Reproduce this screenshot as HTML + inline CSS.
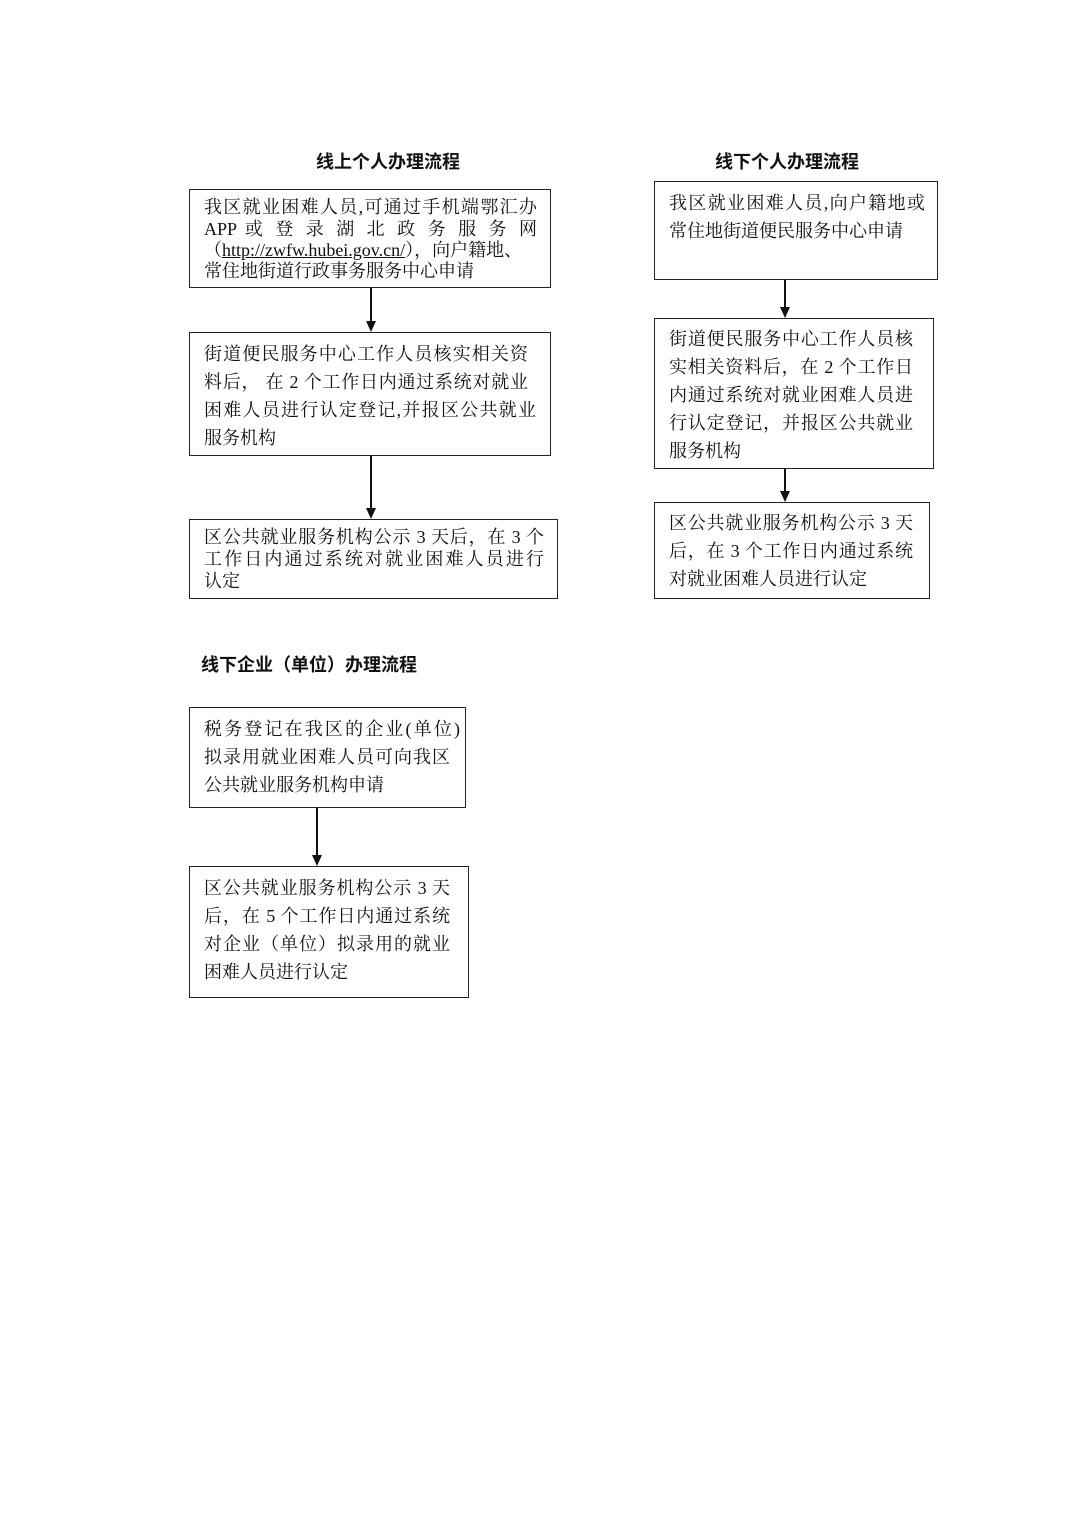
<!DOCTYPE html>
<html><head><meta charset="utf-8"><style>
body{margin:0;background:#fff;}
#p{position:relative;width:1074px;height:1520px;overflow:hidden;font-family:"Liberation Serif","Noto Serif CJK SC",serif;color:#111;}
.b{position:absolute;border:1.3px solid #222;box-sizing:border-box;}
.l{position:absolute;white-space:nowrap;font-size:18px;line-height:20px;}
.j{text-align:justify;text-align-last:justify;}
.t{position:absolute;white-space:nowrap;font-size:18px;font-weight:bold;font-family:"Liberation Sans","Noto Sans CJK SC",sans-serif;line-height:20px;}
.v{position:absolute;width:1.6px;background:#111;}
.a{position:absolute;width:0;height:0;border-left:5px solid transparent;border-right:5px solid transparent;border-top:11px solid #111;}
</style></head><body><div id="p">
<div class="t" style="left:316px;top:152px">线上个人办理流程</div>
<div class="t" style="left:715px;top:152px">线下个人办理流程</div>
<div class="t" style="left:201px;top:655px">线下企业（单位）办理流程</div>

<div class="b" style="left:189px;top:189px;width:362px;height:99px"></div>
<div class="l j" style="left:204px;top:197px;width:333px">我区就业困难人员,可通过手机端鄂汇办</div>
<div class="l j" style="left:204px;top:219px;width:333px">APP 或 登 录 湖 北 政 务 服 务 网</div>
<div class="l" style="left:204px;top:240px">（<u>http://zwfw.hubei.gov.cn/</u>），向户籍地、</div>
<div class="l" style="left:204px;top:261px">常住地街道行政事务服务中心申请</div>
<div class="v" style="left:370px;top:288px;height:34px"></div><div class="a" style="left:366px;top:321px"></div>

<div class="b" style="left:189px;top:332px;width:362px;height:124px"></div>
<div class="l j" style="left:204px;top:344px;width:324px">街道便民服务中心工作人员核实相关资</div>
<div class="l j" style="left:204px;top:372px;width:324px">料后， 在 2 个工作日内通过系统对就业</div>
<div class="l j" style="left:204px;top:400px;width:332px">困难人员进行认定登记,并报区公共就业</div>
<div class="l" style="left:204px;top:428px">服务机构</div>
<div class="v" style="left:370px;top:456px;height:53px"></div><div class="a" style="left:366px;top:508px"></div>

<div class="b" style="left:189px;top:519px;width:369px;height:80px"></div>
<div class="l j" style="left:204px;top:527px;width:340px">区公共就业服务机构公示 3 天后，在 3 个</div>
<div class="l j" style="left:204px;top:549px;width:340px">工作日内通过系统对就业困难人员进行</div>
<div class="l" style="left:204px;top:571px">认定</div>

<div class="b" style="left:654px;top:181px;width:284px;height:99px"></div>
<div class="l j" style="left:669px;top:193px;width:256px">我区就业困难人员,向户籍地或</div>
<div class="l" style="left:669px;top:221px">常住地街道便民服务中心申请</div>
<div class="v" style="left:784px;top:280px;height:28px"></div><div class="a" style="left:780px;top:307px"></div>

<div class="b" style="left:654px;top:318px;width:280px;height:151px"></div>
<div class="l j" style="left:669px;top:329px;width:244px">街道便民服务中心工作人员核</div>
<div class="l j" style="left:669px;top:357px;width:244px">实相关资料后，在 2 个工作日</div>
<div class="l j" style="left:669px;top:385px;width:244px">内通过系统对就业困难人员进</div>
<div class="l j" style="left:669px;top:413px;width:244px">行认定登记，并报区公共就业</div>
<div class="l" style="left:669px;top:441px">服务机构</div>
<div class="v" style="left:784px;top:469px;height:23px"></div><div class="a" style="left:780px;top:491px"></div>

<div class="b" style="left:654px;top:502px;width:276px;height:97px"></div>
<div class="l j" style="left:669px;top:513px;width:244px">区公共就业服务机构公示 3 天</div>
<div class="l j" style="left:669px;top:541px;width:244px">后，在 3 个工作日内通过系统</div>
<div class="l" style="left:669px;top:569px">对就业困难人员进行认定</div>

<div class="b" style="left:189px;top:707px;width:277px;height:101px"></div>
<div class="l j" style="left:204px;top:719px;width:256px">税务登记在我区的企业(单位)</div>
<div class="l j" style="left:204px;top:747px;width:246px">拟录用就业困难人员可向我区</div>
<div class="l" style="left:204px;top:775px">公共就业服务机构申请</div>
<div class="v" style="left:316px;top:808px;height:48px"></div><div class="a" style="left:312px;top:855px"></div>

<div class="b" style="left:189px;top:866px;width:280px;height:132px"></div>
<div class="l j" style="left:204px;top:878px;width:246px">区公共就业服务机构公示 3 天</div>
<div class="l j" style="left:204px;top:906px;width:246px">后，在 5 个工作日内通过系统</div>
<div class="l j" style="left:204px;top:934px;width:246px">对企业（单位）拟录用的就业</div>
<div class="l" style="left:204px;top:962px">困难人员进行认定</div>
</div></body></html>
